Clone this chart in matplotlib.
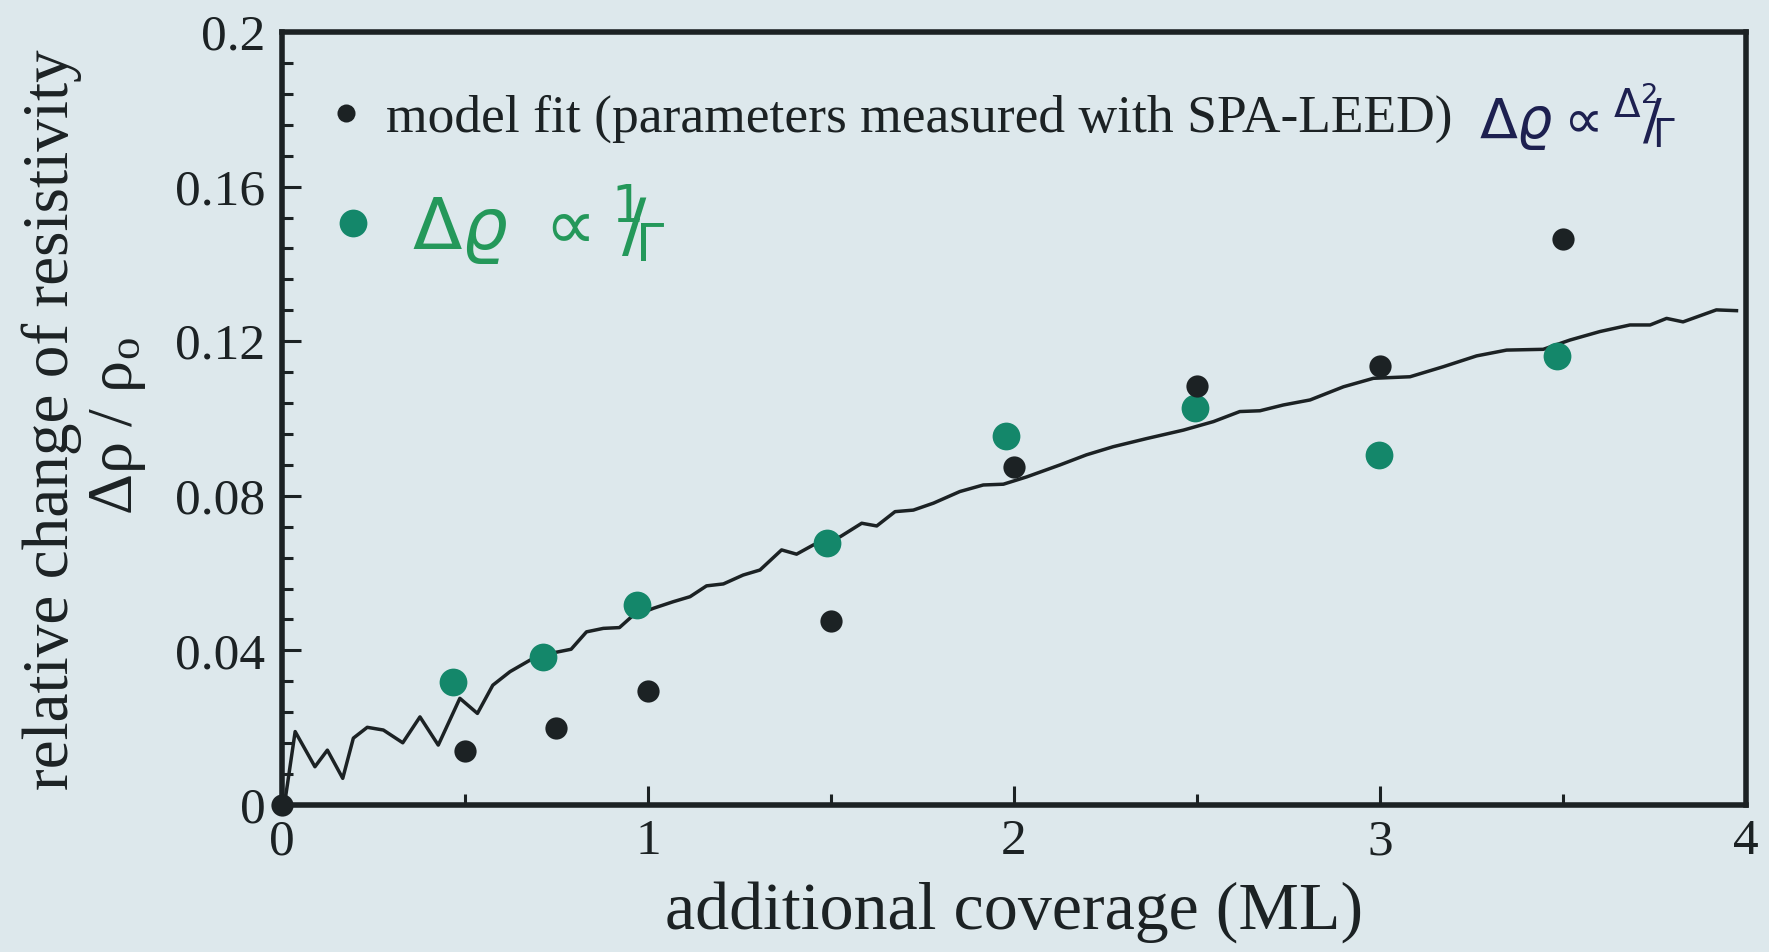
import matplotlib
matplotlib.use("Agg")
import matplotlib.pyplot as plt
from matplotlib.ticker import MultipleLocator

# --- data -------------------------------------------------------------
# model fit, parameters from SPA-LEED (black dots)
fit_cov = [0.0, 0.5, 0.75, 1.0, 1.5, 2.0, 2.5, 3.0, 3.5]
fit_drho = [0.0, 0.014, 0.020, 0.0296, 0.0475, 0.0874, 0.1085, 0.1137, 0.1464]

# delta rho proportional to 1/Gamma (green dots)
inv_cov = [0.466, 0.712, 0.971, 1.488, 1.978, 2.495, 2.997, 3.484]
inv_drho = [0.0317, 0.0384, 0.0517, 0.0677, 0.0955, 0.1026, 0.0906, 0.1162]

# measured resistivity change (solid line)
meas_cov = [0.008, 0.015, 0.036, 0.09, 0.124, 0.166, 0.195, 0.233, 0.277,
            0.33, 0.377, 0.427, 0.486, 0.534, 0.576, 0.623, 0.678, 0.732,
            0.79, 0.832, 0.878, 0.922, 0.955, 1.015, 1.069, 1.115, 1.16,
            1.206, 1.26, 1.306, 1.365, 1.406, 1.452, 1.525, 1.584, 1.625,
            1.675, 1.725, 1.78, 1.852, 1.916, 1.971, 2.035, 2.126, 2.198,
            2.271, 2.362, 2.463, 2.545, 2.617, 2.672, 2.736, 2.809, 2.9,
            2.982, 3.082, 3.173, 3.264, 3.346, 3.446, 3.519, 3.601, 3.683,
            3.738, 3.783, 3.828, 3.919, 3.974]
meas_drho = [0.001, 0.0054, 0.019, 0.0099, 0.0142, 0.0069, 0.0173, 0.0201,
             0.0194, 0.0161, 0.0228, 0.0155, 0.0276, 0.0237, 0.031, 0.0345,
             0.0375, 0.0392, 0.0403, 0.0448, 0.0457, 0.0459, 0.0487, 0.0509,
             0.0526, 0.0539, 0.0567, 0.0572, 0.0595, 0.0608, 0.066, 0.0649,
             0.0673, 0.0694, 0.0729, 0.0722, 0.0759, 0.0763, 0.0781, 0.0811,
             0.0828, 0.0830, 0.0849, 0.088, 0.0906, 0.0927, 0.0948, 0.097,
             0.0992, 0.1018, 0.102, 0.1035, 0.1048, 0.1082, 0.1104, 0.1108,
             0.1134, 0.1162, 0.1177, 0.1179, 0.1203, 0.1225, 0.1242, 0.1242,
             0.1259, 0.125, 0.1281, 0.1279]

x_ticks = [0, 1, 2, 3, 4]
x_ticklabels = ["0", "1", "2", "3", "4"]
y_ticks = [0, 0.04, 0.08, 0.12, 0.16, 0.2]
y_ticklabels = ["0", "0.04", "0.08", "0.12", "0.16", "0.2"]

# --- style ------------------------------------------------------------
paper = "#dde8ec"
ink = "#1c2224"
green_dot = "#14876a"
green_pen = "#24985a"
navy_pen = "#1d2050"
serif = "Liberation Serif"

plt.rcParams["font.family"] = serif
plt.rcParams["mathtext.fontset"] = "custom"
plt.rcParams["mathtext.rm"] = serif
plt.rcParams["mathtext.it"] = serif + ":italic"

fig = plt.figure(figsize=(17.69, 9.52), dpi=100, facecolor=paper)
ax = fig.add_axes([0.1594, 0.1544, 0.8276, 0.8120], facecolor=paper)

ax.plot(meas_cov, meas_drho, color=ink, lw=2.5, zorder=3)
ax.plot(inv_cov, inv_drho, "o", color=green_dot, ms=20, mec="none", zorder=4)
ax.plot(fit_cov, fit_drho, "o", color=ink, ms=16, mec="none", zorder=5,
        clip_on=False)

ax.set_xlim(0, 4)
ax.set_ylim(0, 0.2)
ax.set_xticks(x_ticks)
ax.set_xticklabels(x_ticklabels)
ax.set_yticks(y_ticks)
ax.set_yticklabels(y_ticklabels)
ax.xaxis.set_minor_locator(MultipleLocator(0.5))
ax.yaxis.set_minor_locator(MultipleLocator(0.008))

for s in ax.spines.values():
    s.set_linewidth(4)
    s.set_color(ink)

ax.tick_params(which="both", direction="in", colors=ink, top=False,
               right=False, width=2.2)
ax.tick_params(which="major", length=14, labelsize=37)
ax.tick_params(which="minor", length=8)
ax.tick_params(axis="x", which="major", pad=10)
ax.tick_params(axis="y", which="major", pad=12)

ax.set_xlabel("additional coverage (ML)", fontsize=49, color=ink)
ax.xaxis.set_label_coords(0.5, -0.098)

ax.text(-0.157, 0.498, "relative change of resistivity", rotation=90,
        transform=ax.transAxes, ha="center", va="center", fontsize=47,
        color=ink)
ax.text(-0.112, 0.49, "Δρ / ρ$_\\mathrm{o}$", rotation=90,
        transform=ax.transAxes, ha="center", va="center", fontsize=46,
        color=ink)

# legend entries
ax.plot([0.175], [0.179], "o", color=ink, ms=13, mec="none")
ax.text(0.284, 0.1775, "model fit (parameters measured with SPA-LEED)",
        fontsize=38.5, color=ink, va="center", ha="left")
ax.text(3.27, 0.178, r"$\Delta\varrho \propto {}^{\Delta^2}\!\!/\!_{\Gamma}$",
        fontsize=40, color=navy_pen, va="center", ha="left",
        math_fontfamily="dejavusans")

ax.plot([0.194], [0.1506], "o", color=green_dot, ms=20, mec="none")
ax.text(0.355, 0.150, r"$\Delta\varrho\ \propto {}^{1}\!\!/\!_{\Gamma}$",
        fontsize=52, color=green_pen, va="center", ha="left",
        math_fontfamily="dejavusans")

fig.savefig("out.png", dpi=100, facecolor=paper)
